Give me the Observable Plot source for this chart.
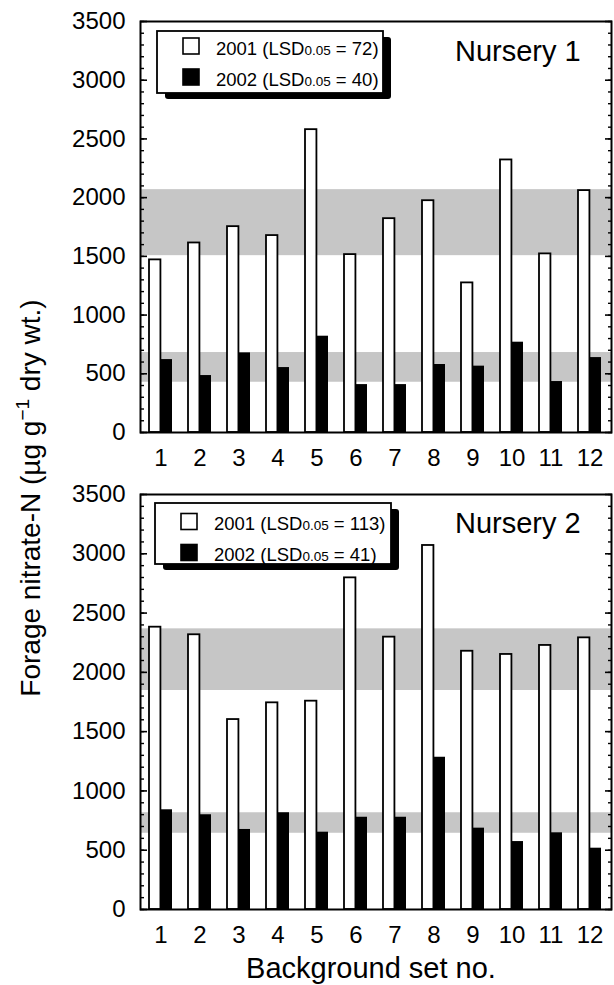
<!DOCTYPE html>
<html><head><meta charset="utf-8">
<script src="https://cdn.jsdelivr.net/npm/d3@7"></script>
<script src="https://cdn.jsdelivr.net/npm/@observablehq/plot@0.6"></script>
<style>
body{margin:0;background:#fff;}
#chart{position:relative;width:614px;height:985px;font-family:"Liberation Sans",Arial,Helvetica,sans-serif;color:#000;}
.panel{position:absolute;left:0;}
#overlay{position:absolute;left:0;top:0;pointer-events:none;}
</style></head><body><div id="chart"></div>
<script>
// ---- data ----
const sets = [1, 2, 3, 4, 5, 6, 7, 8, 9, 10, 11, 12];
const years = ["2001", "2002"];
const nursery1_2001 = [1470, 1614, 1753, 1677, 2579, 1515, 1821, 1974, 1274, 2321, 1521, 2060];
const nursery1_2002 = [621, 485, 678, 553, 820, 408, 408, 579, 565, 769, 434, 638];
const nursery2_2001 = [2381, 2317, 1602, 1743, 1757, 2797, 2297, 3070, 2178, 2151, 2227, 2291];
const nursery2_2002 = [841, 799, 675, 816, 652, 778, 778, 1284, 686, 573, 647, 517];
const nursery1_bands = [[1506, 2068], [428, 681]];
const nursery2_bands = [[1847, 2367], [643, 816]];
const nursery1_lsd = [72, 40];
const nursery2_lsd = [113, 41];
const panelTitles = ["Nursery 1", "Nursery 2"];
const yTicks = d3.range(0, 3501, 500);
const yMinorTicks = d3.range(0, 3501, 100);
const yTitle = ["Forage nitrate-N (µg g", "−1", " dry wt.)"];
const xTitle = "Background set no.";

const FONT = '"Liberation Sans", Arial, Helvetica, sans-serif';
const W = 614, ML = 140, MR = 3, PI = 0.41;

function panel(v2001, v2002, bands, height, marginTop, marginBottom) {
  const data = sets.map((s, i) => ({set: s, a: v2001[i], b: v2002[i]}));
  const step = (W - ML - MR) / sets.length;
  const half = step * (1 - PI) / 2;
  return Plot.plot({
    width: W, height, marginLeft: ML, marginRight: MR, marginTop, marginBottom,
    style: {fontFamily: FONT, color: "black", background: "transparent", overflow: "visible"},
    x: {type: "band", domain: sets, paddingInner: PI, paddingOuter: PI / 2},
    y: {domain: [0, 3500]},
    marks: [
      Plot.rect(bands, {y1: d => d[0], y2: d => d[1], fill: "#c6c6c6"}),
      Plot.barY(data, {x: "set", y: "a", fill: "white", stroke: "black", strokeWidth: 1.8, insetRight: half}),
      Plot.barY(data, {x: "set", y: "b", fill: "black", insetLeft: half}),
      Plot.axisY({ticks: yMinorTicks, anchor: "left", tickSize: 4, dx: 4, fill: "none", strokeWidth: 1.4}),
      Plot.axisY({ticks: yTicks, anchor: "left", tickSize: 7, dx: 7, fill: "none", strokeWidth: 1.6}),
      Plot.axisY({ticks: yMinorTicks, anchor: "right", tickSize: 4, dx: -4, fill: "none", strokeWidth: 1.4}),
      Plot.axisY({ticks: yTicks, anchor: "right", tickSize: 7, dx: -7, fill: "none", strokeWidth: 1.6}),
      Plot.axisY({ticks: yTicks, anchor: "left", tickSize: 0, tickPadding: 15, fontSize: 24, label: null, tickFormat: d3.format("d")}),
      Plot.axisX({tickSize: 0, tickPadding: 16, fontSize: 24, label: null}),
      Plot.frame({stroke: "black", strokeWidth: 2})
    ]
  });
}

const chart = document.getElementById("chart");
const p1 = panel(nursery1_2001, nursery1_2002, nursery1_bands, 470, 21, 38);
p1.classList.add("panel"); p1.style.top = "0px";
const p2 = panel(nursery2_2001, nursery2_2002, nursery2_bands, 470, 24, 31);
p2.classList.add("panel"); p2.style.top = "470px";
chart.appendChild(p1); chart.appendChild(p2);

// ---- overlay: legends, titles ----
const svg = d3.select(chart).append("svg").attr("id", "overlay")
  .attr("width", W).attr("height", 985)
  .style("font-family", FONT);

function legend(box, sq, lsd) {
  const g = svg.append("g");
  g.append("rect").attr("x", box.x + 8).attr("y", box.y + 6).attr("width", box.w).attr("height", box.h).attr("rx", 3).attr("fill", "black");
  g.append("rect").attr("x", box.x).attr("y", box.y).attr("width", box.w).attr("height", box.h).attr("fill", "white").attr("stroke", "black").attr("stroke-width", 1.8);
  years.forEach((yr, i) => {
    const yy = sq.y + i * sq.dy;
    g.append("rect").attr("x", sq.x).attr("y", yy).attr("width", 16).attr("height", 16)
      .attr("fill", i === 0 ? "white" : "black").attr("stroke", "black").attr("stroke-width", 1.6);
    const t = g.append("text").attr("x", sq.x + 33).attr("y", yy + 16.5).attr("font-size", 18.5).attr("fill", "black");
    t.append("tspan").text(`${yr} (LSD`);
    t.append("tspan").attr("font-size", 13.5).text("0.05");
    t.append("tspan").text(` = ${lsd[i]})`);
  });
}
legend({x: 157, y: 31, w: 226, h: 62}, {x: 183, y: 38, dy: 31}, nursery1_lsd);
legend({x: 155, y: 503, w: 236, h: 61}, {x: 181, y: 513.5, dy: 31}, nursery2_lsd);

svg.append("text").attr("x", 455).attr("y", 61).attr("font-size", 29).text(panelTitles[0]);
svg.append("text").attr("x", 455).attr("y", 533).attr("font-size", 29).text(panelTitles[1]);

const yt = svg.append("text").attr("transform", "translate(40,498) rotate(-90)")
  .attr("text-anchor", "middle").attr("font-size", 28);
yt.append("tspan").text(yTitle[0]);
yt.append("tspan").attr("font-size", 19).attr("dy", -11).text(yTitle[1]);
yt.append("tspan").attr("dy", 11).text(yTitle[2]);

svg.append("text").attr("x", 371).attr("y", 978).attr("text-anchor", "middle").attr("font-size", 29).text(xTitle);
</script></body></html>
